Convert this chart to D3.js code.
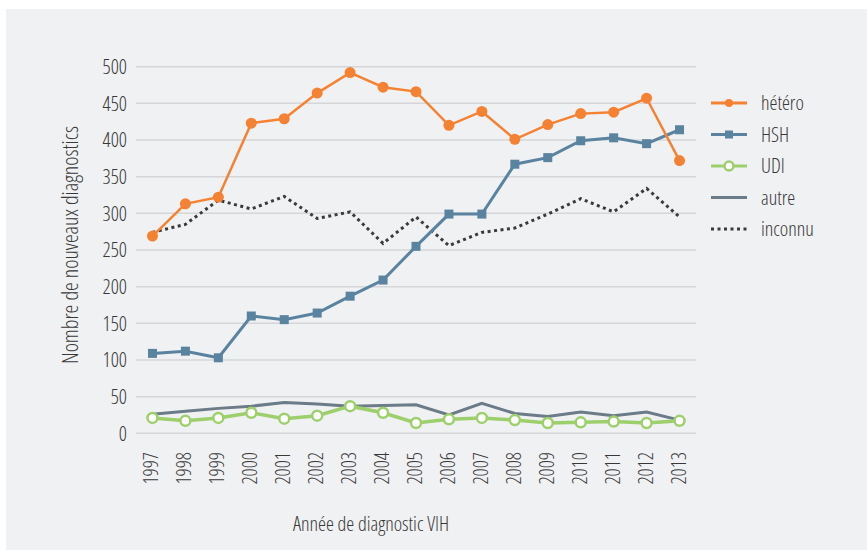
<!DOCTYPE html>
<html>
<head>
<meta charset="utf-8">
<script src="https://cdn.jsdelivr.net/npm/d3@7"></script>
<style>
  body { margin: 0; background: #fff; }
  svg text { font-family: "Open Sans", "Noto Sans", sans-serif; font-stretch: 75%; font-weight: 360; fill: #383838; }
</style>
</head>
<body>
<div id="chart"></div>
<script>
// values
var years = ["1997","1998","1999","2000","2001","2002","2003","2004","2005","2006","2007","2008","2009","2010","2011","2012","2013"];
var hetero  = [269, 313, 322, 423, 429, 464, 492, 472, 466, 420, 439, 401, 421, 436, 438, 457, 372];
var hsh     = [109, 112, 103, 160, 155, 164, 187, 209, 255, 299, 299, 367, 376, 399, 403, 395, 414];
var udi     = [21, 17, 21, 28, 20, 24, 37, 28, 14, 19, 21, 18, 14, 15, 16, 14, 17];
var autre   = [26, 30, 34, 37, 42, 40, 37, 38, 39, 25, 41, 27, 23, 29, 24, 29, 18];
var inconnu = [274, 285, 318, 306, 323, 293, 302, 259, 295, 256, 274, 280, 299, 320, 302, 334, 295];
var yTicks = [0, 50, 100, 150, 200, 250, 300, 350, 400, 450, 500];

var W = 867, H = 550;
var cfg = { left: 136, right: 696, top: 66.7, bot: 433.3 };

var svg = d3.select("#chart").append("svg")
  .attr("width", W)
  .attr("height", H);

// panel background
svg.append("rect")
  .attr("x", 6).attr("y", 9)
  .attr("width", W - 6).attr("height", H - 9)
  .style("fill", "#f0f1f3");

var x = d3.scaleBand().domain(years).range([cfg.left, cfg.right]);
var y = d3.scaleLinear().domain([0, 500]).range([cfg.bot, cfg.top]);
function cx(d, i) { return x(years[i]) + x.bandwidth() / 2; }

// grid lines
svg.append("g").selectAll("line")
  .data(yTicks).enter().append("line")
  .attr("x1", cfg.left).attr("x2", cfg.right)
  .attr("y1", function(d) { return y(d); })
  .attr("y2", function(d) { return y(d); })
  .style("stroke", "#d6d6d8")
  .style("stroke-width", 1.5);

// y tick labels
svg.append("g").selectAll("text")
  .data(yTicks).enter().append("text")
  .attr("x", 127)
  .attr("y", function(d) { return y(d); })
  .attr("dy", "0.36em")
  .attr("text-anchor", "end")
  .style("font-size", "20px")
  .text(function(d) { return d; });

// x tick labels (vertical)
svg.append("g").selectAll("text")
  .data(years).enter().append("text")
  .attr("transform", function(d) {
    return "translate(" + (x(d) + x.bandwidth() / 2 + 6) + ",452) rotate(-90)";
  })
  .attr("text-anchor", "end")
  .style("font-size", "20px")
  .text(function(d) { return d; });

// axis titles
svg.append("text")
  .attr("transform", "translate(78,245) rotate(-90)")
  .attr("text-anchor", "middle")
  .style("font-size", "22px")
  .text("Nombre de nouveaux diagnostics");

svg.append("text")
  .attr("x", 371).attr("y", 531)
  .attr("text-anchor", "middle")
  .style("font-size", "20px")
  .text("Année de diagnostic VIH");

var line = d3.line()
  .x(cx)
  .y(function(d) { return y(d); });

// inconnu (dotted)
svg.append("path")
  .datum(inconnu)
  .attr("d", line)
  .style("fill", "none")
  .style("stroke", "#3a3a3a")
  .style("stroke-width", 3)
  .style("stroke-dasharray", "3,3.5");

// autre
svg.append("path")
  .datum(autre)
  .attr("d", line)
  .style("fill", "none")
  .style("stroke", "#6b7b87")
  .style("stroke-width", 3);

// UDI
svg.append("path")
  .datum(udi)
  .attr("d", line)
  .style("fill", "none")
  .style("stroke", "#9dcf6c")
  .style("stroke-width", 3.5);
svg.append("g").selectAll("circle")
  .data(udi).enter().append("circle")
  .attr("cx", cx)
  .attr("cy", function(d) { return y(d); })
  .attr("r", 5)
  .style("fill", "#fff")
  .style("stroke", "#9dcf6c")
  .style("stroke-width", 2.5);

// HSH
svg.append("path")
  .datum(hsh)
  .attr("d", line)
  .style("fill", "none")
  .style("stroke", "#5a83a0")
  .style("stroke-width", 3);
svg.append("g").selectAll("rect")
  .data(hsh).enter().append("rect")
  .attr("x", function(d, i) { return cx(d, i) - 4.5; })
  .attr("y", function(d) { return y(d) - 4.5; })
  .attr("width", 9).attr("height", 9)
  .style("fill", "#5a83a0");

// hétéro
svg.append("path")
  .datum(hetero)
  .attr("d", line)
  .style("fill", "none")
  .style("stroke", "#f58232")
  .style("stroke-width", 2.5);
svg.append("g").selectAll("circle")
  .data(hetero).enter().append("circle")
  .attr("cx", cx)
  .attr("cy", function(d) { return y(d); })
  .attr("r", 5.5)
  .style("fill", "#f58232");

// legend
var legendItems = ["hétéro", "HSH", "UDI", "autre", "inconnu"];
var lg = svg.append("g").attr("transform", "translate(711,103)");
legendItems.forEach(function(name, i) {
  var g = lg.append("g").attr("transform", "translate(0," + (i * 31.5) + ")");
  var ln = g.append("line").attr("x1", 0).attr("x2", 36).attr("y1", 0).attr("y2", 0);
  if (name == "hétéro") {
    ln.style("stroke", "#f58232").style("stroke-width", 3);
    g.append("circle").attr("cx", 18).attr("r", 4).style("fill", "#f58232");
  } else if (name == "HSH") {
    ln.style("stroke", "#5a83a0").style("stroke-width", 3);
    g.append("rect").attr("x", 14).attr("y", -4).attr("width", 8).attr("height", 8).style("fill", "#5a83a0");
  } else if (name == "UDI") {
    ln.style("stroke", "#9dcf6c").style("stroke-width", 3);
    g.append("circle").attr("cx", 18).attr("r", 4.5).style("fill", "#fff")
      .style("stroke", "#9dcf6c").style("stroke-width", 2.5);
  } else if (name == "autre") {
    ln.style("stroke", "#6b7b87").style("stroke-width", 3);
  } else {
    ln.style("stroke", "#3a3a3a").style("stroke-width", 3).style("stroke-dasharray", "3,3.5");
  }
  g.append("text")
    .attr("x", 50).attr("y", 0).attr("dy", "0.36em")
    .style("font-size", "20px")
    .text(name);
});
</script>
</body>
</html>
